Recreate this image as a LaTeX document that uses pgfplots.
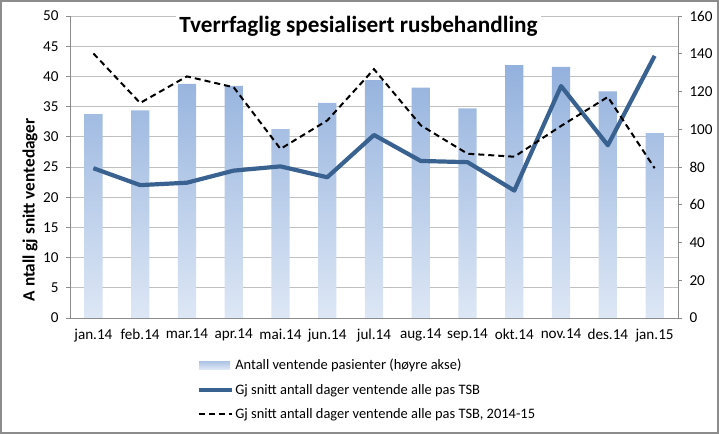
\documentclass[border=0pt]{standalone}
\usepackage{fontspec}
\setmainfont{Carlito}
\usepackage{pgfplots}
\pgfplotsset{compat=1.18}
\definecolor{barTop}{HTML}{93B1DD}
\definecolor{barBot}{HTML}{DDE7F5}
\definecolor{lineBlue}{HTML}{3A6290}
\definecolor{gridGray}{HTML}{C0C0C0}
\definecolor{axGray}{HTML}{8C8C8C}
\begin{document}
\begin{tikzpicture}
\useasboundingbox (-70bp,-116bp) rectangle (649bp,318bp);
\pgfplotsset{
  base/.style={
    scale only axis, width=608bp, height=302bp,
    at={(0,0)}, anchor=south west,
    xmin=-0.5, xmax=12.5,
    /pgf/number format/assume math mode=true,
    tick label style={font=\fontsize{15.2}{18}\selectfont},
  }
}
% Axis A: grid, left axis, x axis
\begin{axis}[base,
  ymin=0, ymax=50, ytick={0,5,...,50},
  ymajorgrids, grid style={gridGray, line width=0.8bp},
  axis x line*=bottom, axis y line*=left,
  axis line style={axGray, line width=0.8bp, -},
  tick align=outside,
  major tick length=4bp,
  tick style={axGray, line width=0.8bp},
  xtick={0,...,12},
  xticklabels={jan.14,feb.14,mar.14,apr.14,mai.14,jun.14,jul.14,aug.14,sep.14,okt.14,nov.14,des.14,jan.15},
  x tick style={draw=none},
  minor xtick={-0.5,0.5,...,12.5},
  minor tick length=4bp,
  minor x tick style={axGray, line width=0.8bp},
  xticklabel style={yshift=-3.5bp},
  yticklabel style={xshift=-4bp},
  ylabel={\bfseries A ntall gj snitt ventedager},
  ylabel style={font=\fontsize{17.3}{20}\selectfont, at={(axis description cs:-0.0658,0.358)}, anchor=center},
]
\addplot[draw=none, forget plot] coordinates {(0,0)};
\end{axis}
% Axis B: bars on right axis
\begin{axis}[base,
  ymin=0, ymax=160, ytick={0,20,...,160},
  axis x line=none, axis y line*=right,
  axis line style={axGray, line width=0.8bp, -},
  tick align=outside, major tick length=4bp,
  tick style={axGray, line width=0.8bp},
  yticklabel style={xshift=4bp},
]
\addplot[ybar, bar width=0.39, draw=none, top color=barTop, bottom color=barBot]
  coordinates {(0,108) (1,110) (2,124) (3,123) (4,100) (5,114) (6,126) (7,122) (8,111) (9,134) (10,133) (11,120) (12,98)};
\end{axis}
% Axis C: lines, legend, title
\begin{axis}[base,
  ymin=0, ymax=50, hide axis, clip=false,
  legend style={at={(0.2084,-0.132)}, anchor=north west, draw=none, fill=none,
    font=\fontsize{14.5}{17}\selectfont, row sep=10.5bp, inner sep=0pt,
    nodes={inner sep=1.2bp}},
  legend cell align=left,
  legend image code/.code={\draw[#1] (0bp,0bp) -- (33bp,0bp);},
]
\addlegendimage{legend image code/.code={\fill[top color=barTop!75!white, bottom color=barBot, draw=none] (0bp,-3.8bp) rectangle (31bp,3.8bp);}}
\addlegendentry{Antall ventende pasienter (høyre akse)}
\addplot[lineBlue, line width=4.2bp, line join=round]
  coordinates {(0,24.8) (1,22.0) (2,22.4) (3,24.4) (4,25.1) (5,23.3) (6,30.3) (7,26.0) (8,25.8) (9,21.1) (10,38.4) (11,28.6) (12,43.4)};
\addlegendentry{Gj snitt antall dager ventende alle pas TSB}
\addplot[black, line width=2bp, dash pattern=on 6bp off 4bp]
  coordinates {(0,43.8) (1,35.6) (2,40.0) (3,38.2) (4,28.0) (5,32.7) (6,41.2) (7,31.9) (8,27.2) (9,26.7) (10,31.8) (11,36.6) (12,24.8)};
\addlegendentry{Gj snitt antall dager ventende alle pas TSB, 2014-15}
\node[fill=white, anchor=base, inner sep=3bp, font=\fontsize{23.3}{27}\selectfont\bfseries]
  at (rel axis cs:0.4745,0.944) {Tverrfaglig spesialisert rusbehandling};
\end{axis}
\draw[axGray, line width=2bp] (-69bp,-115bp) rectangle (648bp,317bp);
\end{tikzpicture}
\end{document}
